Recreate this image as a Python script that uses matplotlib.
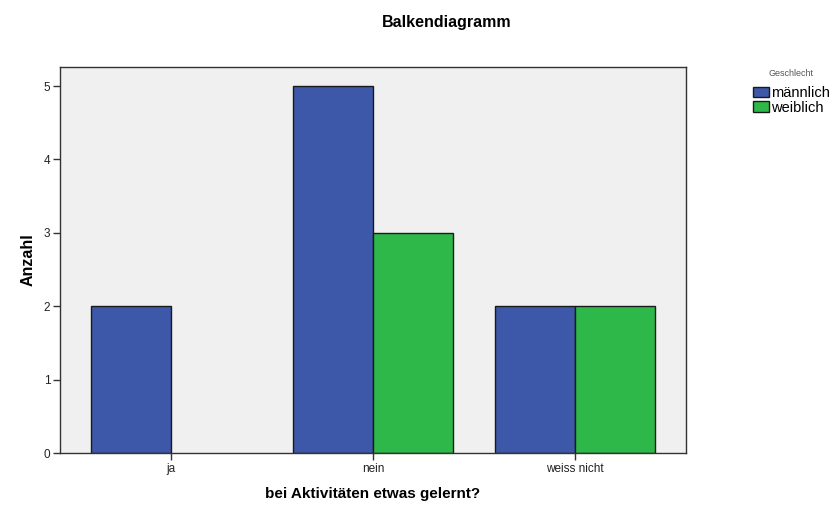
import matplotlib.pyplot as plt
from matplotlib.patches import Patch
import numpy as np

categories = ['ja', 'nein', 'weiss nicht']
maennlich = [2, 5, 2]
weiblich = [0, 3, 2]
y_ticks = [0, 1, 2, 3, 4, 5]

plt.rcParams['font.family'] = ['Liberation Sans', 'DejaVu Sans']

blue = '#3d58a8'
green = '#2eb84a'
edge = '#1a1a1a'

fig = plt.figure(figsize=(8.38, 5.07), dpi=100)
ax = fig.add_axes([0.0716, 0.1065, 0.7470, 0.7615])
ax.set_facecolor('#f0f0f0')

x = np.arange(len(categories))
w = 0.395
# no outline for empty bars
lw_m = [1 if v > 0 else 0 for v in maennlich]
lw_w = [1 if v > 0 else 0 for v in weiblich]
ax.bar(x - w / 2, maennlich, w, color=blue, edgecolor=edge, linewidth=lw_m)
ax.bar(x + w / 2, weiblich, w, color=green, edgecolor=edge, linewidth=lw_w)

ax.set_xlim(-0.55, 2.55)
ax.set_ylim(0, 5.26)
ax.set_xticks(x)
ax.set_xticklabels(categories, fontsize=8.5, color='#222222')
ax.set_yticks(y_ticks)
ax.set_yticklabels([str(t) for t in y_ticks], fontsize=8.5, color='#222222')
ax.tick_params(direction='out', length=5, width=1, color='#333333', pad=2)

for s in ax.spines.values():
    s.set_color('#333333')
    s.set_linewidth(1)

ax.set_xlabel('bei Aktivitäten etwas gelernt?', fontsize=11, fontweight='bold', labelpad=9)
ax.set_ylabel('Anzahl', fontsize=11.5, fontweight='bold', labelpad=6)
fig.text(0.533, 0.955, 'Balkendiagramm', ha='center', va='center', fontsize=11.5, fontweight='bold')

handles = [Patch(facecolor=blue, edgecolor=edge, linewidth=1, label='männlich'),
           Patch(facecolor=green, edgecolor=edge, linewidth=1, label='weiblich')]
leg = ax.legend(handles=handles, loc='upper left', bbox_to_anchor=(1.09, 1.022), title='Geschlecht',
                frameon=False, fontsize=10.5, title_fontsize=6.5, handlelength=1.15, handleheight=0.75,
                handletextpad=0.15, labelspacing=0.05, borderpad=0.2)
leg.get_title().set_color('#555555')
leg._legend_box.sep = 6

fig.savefig('out.png', dpi=100)
